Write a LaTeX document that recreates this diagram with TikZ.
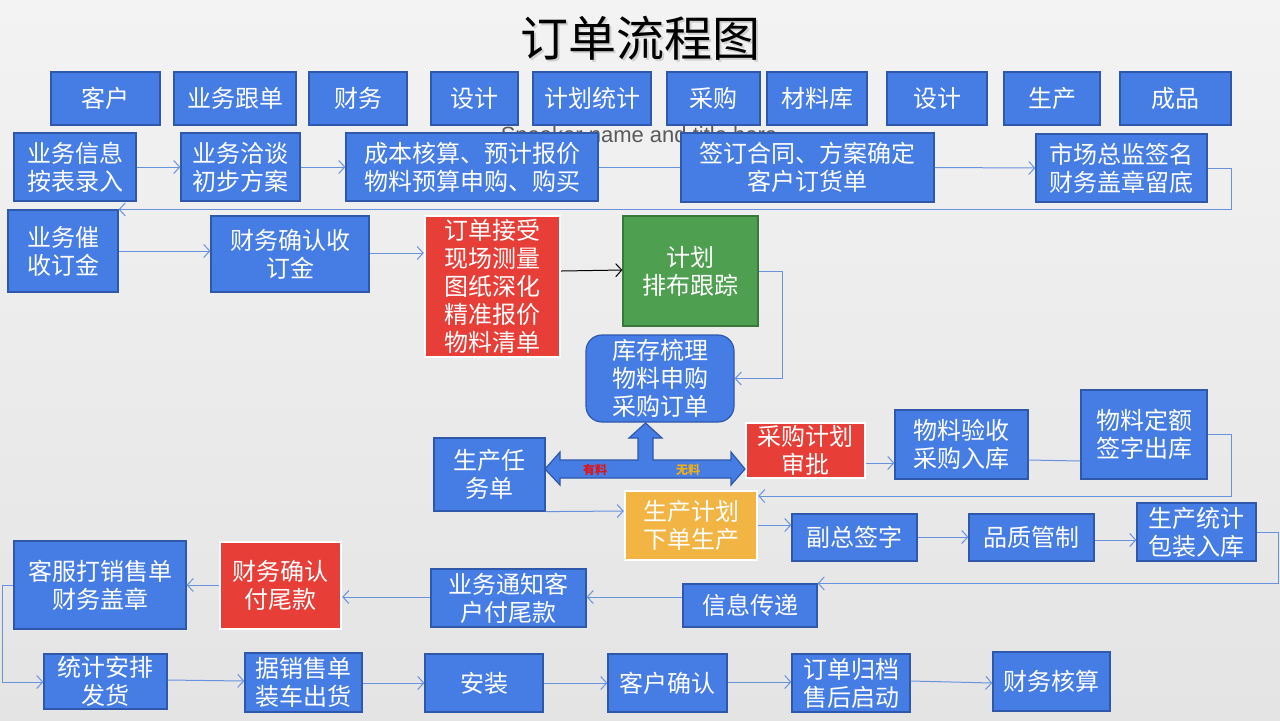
\documentclass[tikz,border=0pt]{standalone}
\usepackage{fontspec}
\setmainfont{Liberation Sans}
\newfontfamily\cjk{Noto Sans CJK SC}
\usetikzlibrary{arrows.meta}
\definecolor{bgtop}{RGB}{243,243,243}
\definecolor{bgbot}{RGB}{228,228,228}
\definecolor{bfill}{RGB}{70,125,228}
\definecolor{bdraw}{RGB}{47,88,170}
\definecolor{rfill}{RGB}{232,62,56}
\definecolor{gfill}{RGB}{78,160,80}
\definecolor{gdraw}{RGB}{56,120,58}
\definecolor{ofill}{RGB}{242,180,66}
\definecolor{lcol}{RGB}{104,146,222}
\definecolor{spk}{RGB}{90,90,90}
\definecolor{youc}{RGB}{225,20,20}
\definecolor{wuc}{RGB}{240,176,20}
\tikzset{
  box/.style={draw=bdraw,fill=bfill,line width=0.6pt,text=white,align=center,inner sep=0pt,
    font={\cjk\fontsize{12}{14}\selectfont}},
  redbox/.style={box,fill=rfill,draw=white,line width=1.2pt},
  greenbox/.style={box,fill=gfill,draw=gdraw},
  orangebox/.style={box,fill=ofill,draw=white,line width=1.2pt},
  roundbox/.style={box,rounded corners=8pt},
  conn/.style={draw=lcol,line width=0.5pt,-{Straight Barb[length=3pt,width=6.5pt]}},
  plain/.style={draw=lcol,line width=0.5pt},
  blackconn/.style={draw=black,line width=0.5pt,-{Straight Barb[length=3pt,width=6.5pt]}}
}
\newcommand\mkbox[7][box]{\node[#1,minimum width={0.5*(#5-#3)*1pt},minimum height={0.5*(#6-#4)*1pt}] (#2) at ({(#3+#5)/2},{(#4+#6)/2}) {#7};}
\begin{document}
\begin{tikzpicture}[x=0.5pt,y=-0.5pt]
\useasboundingbox (0,0) rectangle (1280,720);
\shade[top color=bgtop,bottom color=bgbot] (0,0) rectangle (1280,720);
% title
\node[font={\cjk\fontsize{24}{28}\selectfont},text=black!35,opacity=0.45] at (642,40.5) {订单流程图};
\node[font={\cjk\fontsize{24}{28}\selectfont},text=black] (title) at (640,38) {订单流程图};
% speaker placeholder
\node[font={\fontsize{11}{13}\selectfont},text=spk,anchor=base] (spk) at (639,142) {Speaker name and title here};
% header row
\mkbox{h1}{51}{72}{160}{125}{客户}
\mkbox{h2}{174}{72}{296}{125}{业务跟单}
\mkbox{h3}{309}{72}{407}{125}{财务}
\mkbox{h4}{431}{72}{518}{125}{设计}
\mkbox{h5}{533}{72}{651}{125}{计划统计}
\mkbox{h6}{667}{72}{760}{125}{采购}
\mkbox{h7}{767}{72}{867}{125}{材料库}
\mkbox{h8}{887}{72}{987}{125}{设计}
\mkbox{h9}{1004}{72}{1100}{125}{生产}
\mkbox{h10}{1120}{72}{1231}{125}{成品}
% row 2
\mkbox{info}{14}{133}{136}{201}{业务信息\\按表录入}
\mkbox{talk}{181}{133}{300}{201}{业务洽谈\\初步方案}
\mkbox{cost}{346}{133}{598}{201}{成本核算、预计报价\\物料预算申购、购买}
\mkbox{sign}{681}{133}{934}{202}{签订合同、方案确定\\客户订货单}
\mkbox{sup}{1036}{134}{1207}{202}{市场总监签名\\财务盖章留底}
% row 3
\mkbox{cui}{8}{210}{118}{292}{业务催\\收订金}
\mkbox{fin1}{211}{216}{369}{292}{财务确认收\\订金}
\mkbox[redbox]{order}{425}{216}{560}{357}{订单接受\\现场测量\\图纸深化\\精准报价\\物料清单}
\mkbox[greenbox]{plan}{623}{216}{758}{326}{计划\\排布跟踪}
\mkbox[roundbox]{stock}{586}{335}{734}{422}{库存梳理\\物料申购\\采购订单}
% middle
\mkbox{task}{434}{438}{545}{511}{生产任\\务单}
\mkbox[redbox]{pplan}{746}{423}{865}{478}{采购计划\\审批}
\mkbox{ys}{895}{410}{1028}{479}{物料验收\\采购入库}
\mkbox{de}{1081}{390}{1207}{479}{物料定额\\签字出库}
\mkbox[orangebox]{prod}{625}{491}{757}{560}{生产计划\\下单生产}
\mkbox{vp}{792}{514}{917}{561}{副总签字}
\mkbox{qc}{969}{514}{1094}{561}{品质管制}
\mkbox{pack}{1137}{503}{1256}{561}{生产统计\\包装入库}
% row 5
\mkbox{msg}{683}{584}{817}{627}{信息传递}
\mkbox{notify}{431}{569}{586}{627}{业务通知客\\户付尾款}
\mkbox[redbox]{fin2}{220}{542}{341}{629}{财务确认\\付尾款}
\mkbox{kf}{14}{541}{186}{629}{客服打销售单\\财务盖章}
% bottom row
\mkbox{ship}{44}{654}{167}{709}{统计安排\\发货}
\mkbox{load}{245}{653}{362}{712}{据销售单\\装车出货}
\mkbox{inst}{425}{654}{543}{712}{安装}
\mkbox{conf}{608}{654}{727}{712}{客户确认}
\mkbox{arch}{792}{654}{910}{712}{订单归档\\售后启动}
\mkbox{acct}{993}{652}{1110}{711}{财务核算}
% big double arrow
\draw[fill=bfill,draw=bdraw,line width=0.6pt]
  (545,469) -- (560,452) -- (560,460) -- (638,460) -- (638,438) -- (629,438) -- (645.5,423)
  -- (662,438) -- (653,438) -- (653,460) -- (731,460) -- (731,452) -- (745,469)
  -- (731,485) -- (731,478) -- (560,478) -- (560,485) -- cycle;
\node[font={\cjk\bfseries\fontsize{6}{7}\selectfont},text=youc] (you) at (595,470) {有料};
\node[font={\cjk\bfseries\fontsize{6}{7}\selectfont},text=wuc] (wu) at (688,470) {无料};
% connectors
\draw[conn] (info.east) -- (talk.west);
\draw[conn] (talk.east) -- (cost.west);
\draw[plain] (cost.east) -- (cost.east -| sign.west);
\draw[conn] (sign.east) -- (sup.west);
\draw[conn] (sup.east) -- ++(24,0) |- (cui.north east);
\draw[conn] (cui.east |- 0,251) -- (fin1.west |- 0,251);
\draw[conn] (fin1.east |- 0,253) -- (order.west |- 0,253);
\draw[blackconn] (order.east |- 0,271) -- (plan.west |- 0,270);
\draw[conn] (plan.east |- 0,271) -- (782,271) |- (stock.east);
\draw[conn] (pplan.east |- 0,463) -- (ys.west |- 0,463);
\draw[plain] (ys.east |- 0,460) -- (de.west |- 0,461);
\draw[conn] (de.east |- 0,434) -- (1231,434) |- (prod.north east |- 0,496);
\draw[conn] (task.south east) -- (prod.west |- 0,511);
\draw[conn] (prod.east |- 0,525) -- (vp.west |- 0,525);
\draw[conn] (vp.east |- 0,537) -- (qc.west |- 0,537);
\draw[conn] (qc.east |- 0,540) -- (pack.west |- 0,540);
\draw[conn] (pack.east |- 0,532) -- (1278,532) |- (msg.north east);
\draw[conn] (msg.west |- 0,597) -- (notify.east |- 0,597);
\draw[conn] (notify.west |- 0,597) -- (fin2.east |- 0,597);
\draw[conn] (fin2.west |- 0,585) -- (kf.east |- 0,585);
\draw[conn] (kf.west |- 0,585) -- (2,585) |- (ship.west |- 0,682);
\draw[conn] (ship.east |- 0,680) -- (load.west |- 0,681);
\draw[conn] (load.east |- 0,683) -- (inst.west |- 0,683);
\draw[conn] (inst.east |- 0,683) -- (conf.west |- 0,683);
\draw[conn] (conf.east |- 0,682) -- (arch.west |- 0,682);
\draw[conn] (arch.east |- 0,681) -- (acct.west |- 0,683);
\end{tikzpicture}
\end{document}
